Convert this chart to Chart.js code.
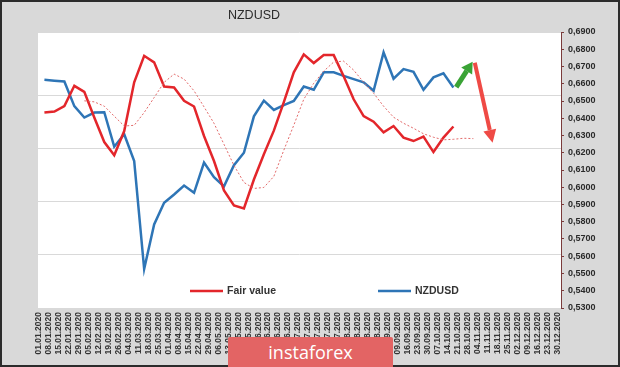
<!DOCTYPE html>
<html>
<head>
<meta charset="utf-8">
<title>NZDUSD</title>
<script src="https://cdn.jsdelivr.net/npm/chart.js@4"></script>
<style>
  html, body { margin: 0; padding: 0; background: #d9d9d9; }
  #wrap { position: relative; width: 620px; height: 367px; overflow: hidden; }
  #chart { position: absolute; left: 0; top: 0; }
  #title {
    position: absolute; left: 0; top: 8px; width: 508px;
    text-align: center; font: 12.5px "Liberation Sans", Arial, sans-serif; color: #2a2a2a;
  }
  #logo {
    position: absolute; left: 228px; top: 337px; width: 165px; height: 32px;
    background: #e36464; border-radius: 2px 2px 0 0;
    color: #fff; font: 18px "Open Sans", sans-serif; line-height: 30px; text-align: center;
  }
</style>
</head>
<body>
<div id="wrap">
  <canvas id="chart" width="620" height="367"></canvas>
  <div id="title">NZDUSD</div>
  <div id="logo">instaforex</div>
</div>
<script>
// ---- tick labels (weekly, date axis) ----
const tickLabels = [
  "01.01.2020","08.01.2020","15.01.2020","22.01.2020","29.01.2020","05.02.2020","12.02.2020",
  "19.02.2020","26.02.2020","04.03.2020","11.03.2020","18.03.2020","25.03.2020","01.04.2020",
  "08.04.2020","15.04.2020","22.04.2020","29.04.2020","06.05.2020","13.05.2020","20.05.2020",
  "27.05.2020","03.06.2020","10.06.2020","17.06.2020","24.06.2020","01.07.2020","08.07.2020",
  "15.07.2020","22.07.2020","29.07.2020","05.08.2020","12.08.2020","19.08.2020","26.08.2020",
  "02.09.2020","09.09.2020","16.09.2020","23.09.2020","30.09.2020","07.10.2020","14.10.2020",
  "21.10.2020","28.10.2020","04.11.2020","11.11.2020","18.11.2020","25.11.2020","02.12.2020",
  "09.12.2020","16.12.2020","23.12.2020","30.12.2020"
];
const tickStepDays = 7;
const seriesFirstDay = 4;   // weekly observations start 05.01.2020

// ---- series values ----
const fairValue = [
  0.6433, 0.6439, 0.6471, 0.6588, 0.6553, 0.6404, 0.6262, 0.6185, 0.6326, 0.6608,
  0.6762, 0.6724, 0.6584, 0.6578, 0.6501, 0.6468, 0.6297, 0.6152, 0.5982, 0.5894,
  0.5877, 0.6045, 0.6191, 0.6328, 0.6493, 0.6666, 0.6770, 0.6720, 0.6766, 0.6766,
  0.6644, 0.6510, 0.6412, 0.6380, 0.6318, 0.6355, 0.6288, 0.6268, 0.6294, 0.6204,
  0.6288, 0.6352
];
const nzdusd = [
  0.6623, 0.6618, 0.6613, 0.6470, 0.6404, 0.6433, 0.6435, 0.6235, 0.6307, 0.6152,
  0.5526, 0.5784, 0.5910, 0.5958, 0.6010, 0.5968, 0.6143, 0.6058, 0.6005, 0.6128,
  0.6200, 0.6411, 0.6502, 0.6448, 0.6476, 0.6500, 0.6584, 0.6565, 0.6666, 0.6666,
  0.6646, 0.6627, 0.6608, 0.6559, 0.6782, 0.6629, 0.6685, 0.6669, 0.6565, 0.6637,
  0.6660, 0.6578
];
const fairValueAvg = [
  null, null, null, null, 0.6501, 0.6495, 0.6470, 0.6412, 0.6355, 0.6359,
  0.6433, 0.6520, 0.6608, 0.6656, 0.6627, 0.6559, 0.6466, 0.6371, 0.6249, 0.6127,
  0.6028, 0.5993, 0.5999, 0.6063, 0.6215, 0.6360, 0.6510, 0.6603, 0.6673, 0.6726,
  0.6731, 0.6679, 0.6609, 0.6545, 0.6470, 0.6406, 0.6371, 0.6342, 0.6310, 0.6290,
  0.6275, 0.6278, 0.6284, 0.6282
];

// forecast arrows: [day, value] -> [day, value]
const arrowUp = [[293, 0.6580], [304.5, 0.6728]];
const arrowDown = [[306, 0.6722], [318.5, 0.6258]];

const Y_MIN = 0.53, Y_MAX = 0.69, Y_STEP = 0.01;

function toPoints(values) {
  return values.map((v, i) => ({ x: seriesFirstDay + i * tickStepDays, y: v }));
}

// ----- background, plot area and frame -----
const framePlugin = {
  id: "frame",
  beforeDraw(chart) {
    const { ctx, chartArea: a } = chart;
    ctx.save();
    ctx.fillStyle = "#d9d9d9";
    ctx.fillRect(0, 0, chart.width, chart.height);
    ctx.fillStyle = "#ffffff";
    ctx.fillRect(a.left, a.top, a.right - a.left, a.bottom - a.top);
    ctx.restore();
  },
  afterDraw(chart) {
    const { ctx } = chart;
    ctx.save();
    ctx.strokeStyle = "#2b2b2b";
    ctx.lineWidth = 2;
    ctx.strokeRect(1, 1, chart.width - 2, chart.height - 2);
    ctx.restore();
  }
};

// ----- legend inside the plot area -----
const legendPlugin = {
  id: "innerLegend",
  afterDatasetsDraw(chart) {
    const { ctx, chartArea: a } = chart;
    const y = a.bottom - 17;
    const slots = [a.left + 152, a.left + 340];
    const items = chart.data.datasets.filter(d => d.label);
    ctx.save();
    ctx.font = "bold 10.5px 'Liberation Sans', Arial, sans-serif";
    ctx.textBaseline = "middle";
    items.forEach((d, i) => {
      const x = slots[i];
      ctx.strokeStyle = d.borderColor;
      ctx.lineWidth = 2.5;
      ctx.beginPath();
      ctx.moveTo(x, y);
      ctx.lineTo(x + 33, y);
      ctx.stroke();
      ctx.fillStyle = "#333";
      ctx.fillText(d.label, x + 37, y + 0.5);
    });
    ctx.restore();
  }
};

// ----- forecast arrows -----
function drawArrow(ctx, x1, y1, x2, y2, color, width, headLen, headW) {
  const ang = Math.atan2(y2 - y1, x2 - x1);
  const bx = x2 - headLen * Math.cos(ang), by = y2 - headLen * Math.sin(ang);
  ctx.strokeStyle = color;
  ctx.fillStyle = color;
  ctx.lineWidth = width;
  ctx.lineCap = "butt";
  ctx.beginPath();
  ctx.moveTo(x1, y1);
  ctx.lineTo(bx, by);
  ctx.stroke();
  ctx.beginPath();
  ctx.moveTo(x2, y2);
  ctx.lineTo(bx + headW / 2 * Math.sin(ang), by - headW / 2 * Math.cos(ang));
  ctx.lineTo(bx - headW / 2 * Math.sin(ang), by + headW / 2 * Math.cos(ang));
  ctx.closePath();
  ctx.fill();
}

const arrowPlugin = {
  id: "arrows",
  afterDatasetsDraw(chart) {
    const { ctx, scales: { x, y } } = chart;
    const px = p => [x.getPixelForValue(p[0]), y.getPixelForValue(p[1])];
    ctx.save();
    const [u1, u2] = [px(arrowUp[0]), px(arrowUp[1])];
    drawArrow(ctx, u1[0], u1[1], u2[0], u2[1], "#3aa335", 5, 11, 13);
    const [d1, d2] = [px(arrowDown[0]), px(arrowDown[1])];
    drawArrow(ctx, d1[0], d1[1], d2[0], d2[1], "#ef4a45", 4, 13, 13);
    ctx.restore();
  }
};

new Chart(document.getElementById("chart"), {
  type: "line",
  data: {
    datasets: [
      {
        data: toPoints(fairValueAvg),
        borderColor: "#e36a6a",
        borderWidth: 1,
        borderDash: [2, 2],
        pointRadius: 0,
        yAxisID: "y"
      },
      {
        label: "Fair value",
        data: toPoints(fairValue),
        borderColor: "#e3262b",
        borderWidth: 2.5,
        pointRadius: 0,
        yAxisID: "y"
      },
      {
        label: "NZDUSD",
        data: toPoints(nzdusd),
        borderColor: "#2e75b6",
        borderWidth: 2.5,
        pointRadius: 0,
        yAxisID: "y"
      }
    ]
  },
  options: {
    responsive: false,
    animation: false,
    devicePixelRatio: 1,
    layout: { padding: { left: 38, top: 32, right: 0, bottom: 0 } },
    plugins: { legend: { display: false }, tooltip: { enabled: false }, title: { display: false } },
    scales: {
      x: {
        type: "linear",
        position: "bottom",
        min: -0.5,
        max: 366.5,
        afterBuildTicks: axis => { axis.ticks = tickLabels.map((_, k) => ({ value: k * tickStepDays })); },
        afterFit: axis => { axis.height = 59; },
        grid: { display: false, drawTicks: false },
        border: { display: false },
        ticks: {
          autoSkip: false,
          minRotation: 90,
          maxRotation: 90,
          padding: 4,
          color: "#333",
          font: { family: "'Liberation Sans', Arial, sans-serif", size: 8.5, weight: "bold" },
          callback: (v, i) => tickLabels[i]
        }
      },
      g: {
        type: "linear",
        position: "left",
        min: 0,
        max: 5.2,
        afterFit: axis => { axis.width = 0; },
        ticks: { display: false, stepSize: 1 },
        grid: { color: "#d9d9d9", lineWidth: 1, drawTicks: false },
        border: { display: false }
      },
      y: {
        type: "linear",
        position: "right",
        min: Y_MIN,
        max: Y_MAX,
        afterFit: axis => { axis.width = 59; },
        grid: { drawOnChartArea: false, drawTicks: true, tickLength: 3, color: "#7a3b3b" },
        border: { display: true, color: "#7a3b3b", width: 1 },
        ticks: {
          stepSize: Y_STEP,
          padding: 4,
          color: "#2a2a2a",
          font: { family: "'Liberation Sans', Arial, sans-serif", size: 9, weight: "bold" },
          callback: v => v.toFixed(4).replace(".", ",")
        }
      }
    }
  },
  plugins: [framePlugin, legendPlugin, arrowPlugin]
});
</script>
</body>
</html>
